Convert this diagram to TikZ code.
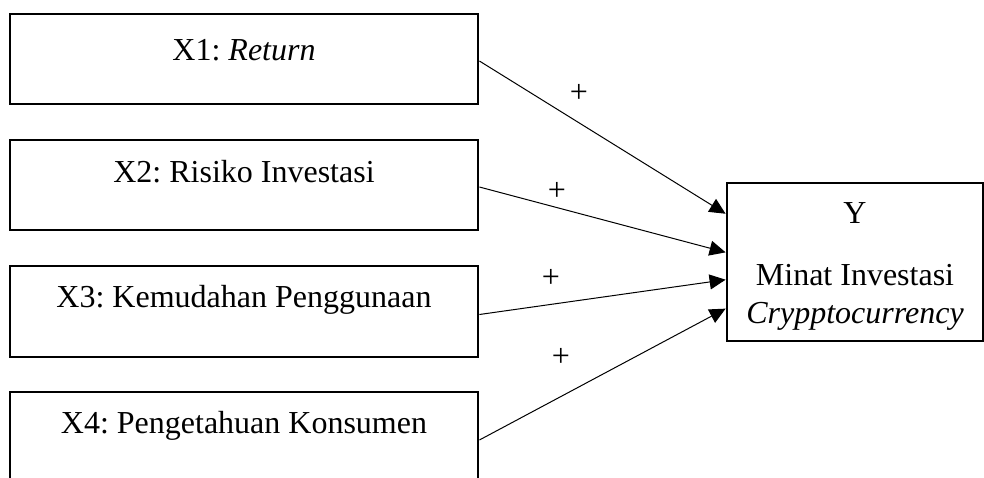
\documentclass[tikz,border=0pt]{standalone}
\usepackage{fontspec}
\setmainfont{Liberation Serif}
\usetikzlibrary{arrows.meta,calc}
\frenchspacing
\tikzset{
  varbox/.style={draw, line width=1.4pt, rectangle, inner sep=0pt},
  vartext/.style={anchor=base, inner sep=0pt, font=\fontsize{16}{19}\selectfont},
  effect/.style={line width=0.5pt, -{Triangle[length=8pt,width=7.5pt]}},
  sign/.style={inner sep=0pt, font=\fontsize{16}{19}\selectfont}
}
\begin{document}
\begin{tikzpicture}[x=0.5pt,y=-0.5pt]
                \useasboundingbox (0,0) rectangle (984,477);
                \clip (0,0) rectangle (984,477);
                % independent variables
                \node[varbox, minimum width=234pt, minimum height=45pt] (x1) at (244,59) {};
                \node[varbox, minimum width=234pt, minimum height=45pt] (x2) at (244,185) {};
                \node[varbox, minimum width=234pt, minimum height=45.5pt] (x3) at (244,311.5) {};
                \node[varbox, minimum width=234pt, minimum height=47pt] (x4) at (244,439) {};
                \node[vartext] (t1) at (244,60) {X1: \textit{Return}};
                \node[vartext] (t2) at (244,182) {X2: Risiko Investasi};
                \node[vartext] (t3) at (244,307) {X3: Kemudahan Penggunaan};
                \node[vartext] (t4) at (244,433) {X4: Pengetahuan Konsumen};
                % dependent variable
                \node[varbox, minimum width=128pt, minimum height=79pt] (y) at (855,262) {};
                \node[vartext] (ty) at (855,223) {Y};
                \node[vartext] (tm) at (855,285) {Minat Investasi};
                \node[vartext] (tc) at (855,323) {\textit{Crypptocurrency}};
                % arrow heads on the left side of Y
                \coordinate (e1) at ($(y.north west)!0.20!(y.south west)$);
                \coordinate (e2) at ($(y.north west)!0.44!(y.south west)$);
                \coordinate (e3) at ($(y.north west)!0.61!(y.south west)$);
                \coordinate (e4) at ($(y.north west)!0.79!(y.south west)$);
                \draw[effect] ([yshift=-1pt]x1.east) -- (e1);
                \draw[effect] ([yshift=-1pt]x2.east) -- (e2);
                \draw[effect] ([yshift=-1.5pt]x3.east) -- (e3);
                \draw[effect] ([yshift=-0.5pt]x4.east) -- (e4);
                \node[sign] (p1) at (579,93) {+};
                \node[sign] (p2) at (557,191) {+};
                \node[sign] (p3) at (551,278) {+};
                \node[sign] (p4) at (561,357) {+};
            \end{tikzpicture}
\end{document}
